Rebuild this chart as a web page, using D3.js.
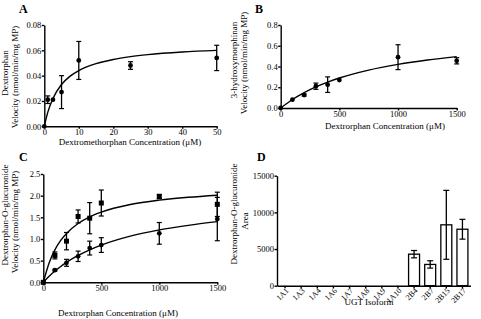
<!DOCTYPE html>
<html>
<head>
<meta charset="utf-8">
<script src="https://cdn.jsdelivr.net/npm/d3@7"></script>
<style>
  body { margin: 0; background: #fff; }
  svg text { font-family: "Liberation Serif", "Times New Roman", serif; fill: #000; }
  .axis path, .axis line { stroke: #000; stroke-width: 1.4; }
</style>
</head>
<body>
<div id="chart"></div>
<script>
// Panel A: dextromethorphan -> dextrorphan
const aConc = [0, 1, 2.5, 5, 10, 25, 50];
const aVel = [0, 0.021, 0.021, 0.027, 0.052, 0.048, 0.054];
const aErr = [0, 0.003, 0, 0.013, 0.015, 0.003, 0.01];
const aFitX = [0, 1, 2.5, 5, 7.5, 10, 15, 20, 25, 30, 40, 50];
const aFitY = [0, 0.011, 0.022, 0.033, 0.0396, 0.044, 0.0495, 0.0528, 0.055, 0.0566, 0.0587, 0.060];

// Panel B: dextrorphan -> 3-hydroxymorphinan
const bConc = [0, 100, 200, 300, 400, 500, 1000, 1500];
const bVel = [0, 0.08, 0.125, 0.21, 0.225, 0.27, 0.49, 0.455];
const bErr = [0, 0, 0.01, 0.03, 0.075, 0, 0.12, 0.03];
const bFitX = [0, 100, 200, 300, 400, 500, 750, 1000, 1250, 1500];
const bFitY = [0, 0.082, 0.149, 0.204, 0.25, 0.289, 0.365, 0.42, 0.462, 0.495];

// Panel C: dextrorphan-O-glucuronide, two series
const cConc = [0, 100, 200, 300, 400, 500, 1000, 1500];
const cSquare = [0, 0.62, 0.95, 1.52, 1.48, 1.83, 1.98, 1.80];
const cSquareErr = [0, 0.08, 0.2, 0.15, 0.36, 0.3, 0.05, 0.28];
const cCircle = [0, 0.28, 0.45, 0.60, 0.79, 0.86, 1.13, 1.46];
const cCircleErr = [0, 0.02, 0.08, 0.12, 0.16, 0.17, 0.25, 0.5];
const cFitX = [0, 50, 100, 150, 200, 300, 400, 500, 750, 1000, 1250, 1500];
const cFitSquare = [0, 0.448, 0.75, 0.966, 1.128, 1.357, 1.511, 1.62, 1.795, 1.896, 1.962, 2.01];
const cFitCircle = [0, 0.14, 0.259, 0.365, 0.46, 0.62, 0.751, 0.859, 1.065, 1.209, 1.315, 1.40];

// Panel D: UGT isoform screen
const isoforms = ["1A1", "1A3", "1A4", "1A6", "1A7", "1A8", "1A9", "1A10", "2B4", "2B7", "2B15", "2B17"];
const isoArea = [0, 0, 0, 0, 0, 0, 0, 0, 4300, 2900, 8300, 7700];
const isoErr = [0, 0, 0, 0, 0, 0, 0, 0, 500, 500, 4700, 1350];

const FONT = "Liberation Serif";

const svg = d3.select("#chart").append("svg")
  .attr("width", 481)
  .attr("height", 319);

function zip(xs, ys, es) {
  return xs.map((x, i) => ({ x: x, y: ys[i], e: es ? es[i] : 0 }));
}

function styleAxis(g, size) {
  g.attr("font-family", FONT).attr("font-size", size);
  g.selectAll("text").style("font-family", FONT).style("font-size", size + "px");
}

function drawAxes(x, y, xTicks, yTicks, yFmt) {
  const gx = svg.append("g")
    .attr("class", "axis")
    .attr("transform", `translate(0,${y.range()[0]})`)
    .call(d3.axisBottom(x).tickValues(xTicks).tickFormat(d3.format("d")).tickSize(2.5).tickSizeOuter(0).tickPadding(0));
  styleAxis(gx, 8.5);
  const gy = svg.append("g")
    .attr("class", "axis")
    .attr("transform", `translate(${x.range()[0]},0)`)
    .call(d3.axisLeft(y).tickValues(yTicks).tickFormat(yFmt).tickSize(2.5).tickSizeOuter(0).tickPadding(0.5));
  styleAxis(gy, 8.5);
}

function drawFit(x, y, fx, fy) {
  svg.append("path")
    .datum(fx.map((v, i) => [v, fy[i]]))
    .attr("fill", "none")
    .attr("stroke", "#000")
    .attr("stroke-width", 1.4)
    .attr("d", d3.line().x(d => x(d[0])).y(d => y(d[1])).curve(d3.curveMonotoneX));
}

function drawPoints(x, y, pts, shape) {
  const g = svg.append("g");
  const bars = pts.filter(d => d.e > 0);
  g.selectAll("line.eb")
    .data(bars)
    .join("line")
    .attr("x1", d => x(d.x)).attr("x2", d => x(d.x))
    .attr("y1", d => y(d.y - d.e)).attr("y2", d => y(d.y + d.e))
    .attr("stroke", "#000").attr("stroke-width", 1.3);
  [-1, 1].forEach(s => {
    g.selectAll(null)
      .data(bars)
      .join("line")
      .attr("x1", d => x(d.x) - 2.5).attr("x2", d => x(d.x) + 2.5)
      .attr("y1", d => y(d.y + s * d.e)).attr("y2", d => y(d.y + s * d.e))
      .attr("stroke", "#000").attr("stroke-width", 1.2);
  });
  if (shape === "square") {
    g.selectAll("rect")
      .data(pts)
      .join("rect")
      .attr("x", d => x(d.x) - 2.5).attr("y", d => y(d.y) - 2.5)
      .attr("width", 5).attr("height", 5)
      .attr("fill", "#000");
  } else {
    g.selectAll("circle")
      .data(pts)
      .join("circle")
      .attr("cx", d => x(d.x)).attr("cy", d => y(d.y))
      .attr("r", 2.4)
      .attr("fill", "#000");
  }
}

function yLabel(cx, cy, text) {
  svg.append("text")
    .attr("transform", `translate(${cx},${cy}) rotate(-90)`)
    .attr("text-anchor", "middle")
    .attr("dy", "0.35em")
    .style("font-size", "9px")
    .text(text);
}

function xLabel(cx, y0, text) {
  svg.append("text")
    .attr("x", cx).attr("y", y0)
    .attr("text-anchor", "middle")
    .style("font-size", "9px")
    .text(text);
}

function panelLetter(px, py, text) {
  svg.append("text")
    .attr("x", px).attr("y", py)
    .style("font-size", "12px")
    .style("font-weight", "bold")
    .text(text);
}

// ---- A ----
const xA = d3.scaleLinear().domain([0, 50]).range([44.3, 216.7]);
const yA = d3.scaleLinear().domain([0, 0.08]).range([126.3, 25]);
drawAxes(xA, yA, [0, 10, 20, 30, 40, 50], [0, 0.02, 0.04, 0.06, 0.08], d3.format(".2f"));
drawFit(xA, yA, aFitX, aFitY);
drawPoints(xA, yA, zip(aConc, aVel, aErr), "circle");
yLabel(5, 73, "Dextrorphan");
yLabel(15, 77, "Velocity (nmol/min/mg MP)");
xLabel(130, 145, "Dextromethorphan Concentration (\u03bcM)");
panelLetter(19, 13, "A");

// ---- B ----
const xB = d3.scaleLinear().domain([0, 1500]).range([280.7, 456.7]);
const yB = d3.scaleLinear().domain([0, 0.8]).range([108, 25]);
drawAxes(xB, yB, [0, 500, 1000, 1500], [0, 0.2, 0.4, 0.6, 0.8], d3.format(".1f"));
drawFit(xB, yB, bFitX, bFitY);
drawPoints(xB, yB, zip(bConc, bVel, bErr), "circle");
yLabel(234, 60, "3-hydroxymorphinan");
yLabel(244, 63, "Velocity (nmol/min/mg MP)");
xLabel(385, 129, "Dextrorphan Concentration (\u03bcM)");
panelLetter(255, 13, "B");

// ---- C ----
const xC = d3.scaleLinear().domain([0, 1500]).range([43.3, 217.3]);
const yC = d3.scaleLinear().domain([0, 2.5]).range([282.3, 174]);
drawAxes(xC, yC, [0, 500, 1000, 1500], [0, 0.5, 1, 1.5, 2, 2.5], d3.format(".1f"));
drawFit(xC, yC, cFitX, cFitSquare);
drawFit(xC, yC, cFitX, cFitCircle);
drawPoints(xC, yC, zip(cConc, cSquare, cSquareErr), "square");
drawPoints(xC, yC, zip(cConc, cCircle, cCircleErr), "circle");
yLabel(5, 215, "Dextrorphan-O-glucuronide");
yLabel(15, 222, "Velocity (nmol/min/mg MP)");
xLabel(118, 316, "Dextrorphan Concentration (\u03bcM)");
panelLetter(19, 161, "C");

// ---- D ----
const xD = d3.scaleBand().domain(isoforms).range([277, 470.5]).paddingInner(0.32).paddingOuter(0.16);
const yD = d3.scaleLinear().domain([0, 15000]).range([285.7, 175.7]);

svg.append("g")
  .selectAll("rect")
  .data(isoforms.map((k, i) => ({ k: k, v: isoArea[i], e: isoErr[i] })).filter(d => d.v > 0))
  .join("rect")
  .attr("x", d => xD(d.k))
  .attr("y", d => yD(d.v))
  .attr("width", xD.bandwidth())
  .attr("height", d => yD(0) - yD(d.v))
  .attr("fill", "#fff")
  .attr("stroke", "#000")
  .attr("stroke-width", 1.3);

const dPts = isoforms.map((k, i) => ({ x: k, y: isoArea[i], e: isoErr[i] }));
const xDc = k => xD(k) + xD.bandwidth() / 2;
const dBars = dPts.filter(d => d.e > 0);
svg.append("g").selectAll("line")
  .data(dBars)
  .join("line")
  .attr("x1", d => xDc(d.x)).attr("x2", d => xDc(d.x))
  .attr("y1", d => yD(d.y - d.e)).attr("y2", d => yD(d.y + d.e))
  .attr("stroke", "#000").attr("stroke-width", 1.3);
[-1, 1].forEach(s => {
  svg.append("g").selectAll("line")
    .data(dBars)
    .join("line")
    .attr("x1", d => xDc(d.x) - 3).attr("x2", d => xDc(d.x) + 3)
    .attr("y1", d => yD(d.y + s * d.e)).attr("y2", d => yD(d.y + s * d.e))
    .attr("stroke", "#000").attr("stroke-width", 1.2);
});

const dxAxis = svg.append("g")
  .attr("class", "axis")
  .attr("transform", `translate(0,${yD(0)})`)
  .call(d3.axisBottom(xD).tickSize(2.5).tickSizeOuter(0).tickPadding(0));
styleAxis(dxAxis, 8);
dxAxis.selectAll("text")
  .attr("text-anchor", "end")
  .attr("x", -1)
  .attr("y", 4)
  .attr("dy", "0.35em")
  .attr("transform", "rotate(-45)");

const dyAxis = svg.append("g")
  .attr("class", "axis")
  .attr("transform", `translate(277,0)`)
  .call(d3.axisLeft(yD).tickValues([0, 5000, 10000, 15000]).tickFormat(d3.format("d")).tickSize(2.5).tickSizeOuter(0).tickPadding(0.5));
styleAxis(dyAxis, 8.5);

yLabel(234, 214, "Dextrorphan-O-glucuronide");
yLabel(245, 221, "Area");
xLabel(369, 305, "UGT Isoform");
panelLetter(257, 161, "D");
</script>
</body>
</html>
